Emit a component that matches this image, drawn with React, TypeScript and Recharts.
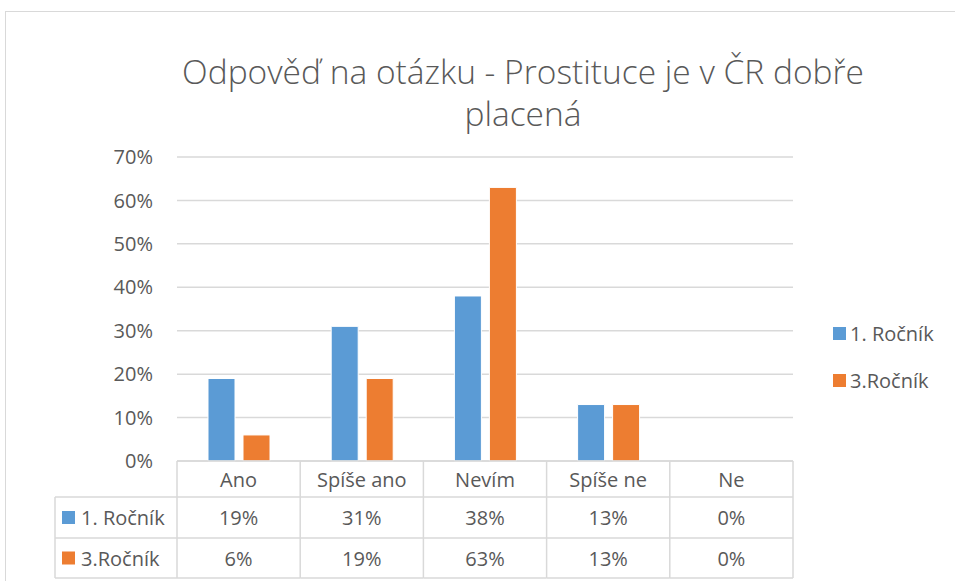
import React from "react";
import { BarChart, Bar, XAxis, YAxis, CartesianGrid } from "recharts";

const categories = ["Ano", "Spíše ano", "Nevím", "Spíše ne", "Ne"];
const firstYear = [0.19, 0.31, 0.38, 0.13, 0];
const thirdYear = [0.06, 0.19, 0.63, 0.13, 0];
const seriesNames = ["1. Ročník", "3.Ročník"];
const seriesColors = ["#5B9BD5", "#ED7D31"];
const yTicks = [0, 0.1, 0.2, 0.3, 0.4, 0.5, 0.6, 0.7];
const titleLines = ["Odpověď na otázku - Prostituce je v ČR dobře", "placená"];

const data = categories.map((name, i) => ({
  name,
  first: firstYear[i],
  third: thirdYear[i],
}));

const FONT = "'Open Sans', sans-serif";
const TEXT = "#595959";
const LINE = "#d9d9d9";
const FS = 20;

const W = 955;
const H = 581;
const PLOT_LEFT = 177;
const PLOT_RIGHT = 793;
const PLOT_TOP = 157;
const AXIS_Y = 461;
const ROW_LINES = [497, 538, 578];
const KEY_LEFT = 55;
const COL_W = (PLOT_RIGHT - PLOT_LEFT) / categories.length;

const pct = (v: number) => `${Math.round(v * 100)}%`;

const TableTick = (props: any) => {
  const { x, payload, index } = props;
  const half = COL_W / 2;
  const rows = [firstYear, thirdYear];
  return (
    <g fontFamily={FONT} fontSize={FS} fill={TEXT}>
      <line x1={x + half} x2={x + half} y1={AXIS_Y} y2={ROW_LINES[2]} stroke={LINE} strokeWidth={1.5} />
      {index === 0 && (
        <line x1={x - half} x2={x - half} y1={AXIS_Y} y2={ROW_LINES[2]} stroke={LINE} strokeWidth={1.5} />
      )}
      {ROW_LINES.map((ly) => (
        <line key={ly} x1={x - half} x2={x + half} y1={ly} y2={ly} stroke={LINE} strokeWidth={1.5} />
      ))}
      <text x={x} y={(AXIS_Y + ROW_LINES[0]) / 2} textAnchor="middle" dominantBaseline="central">
        {payload.value}
      </text>
      {rows.map((r, ri) => (
        <text
          key={ri}
          x={x}
          y={(ROW_LINES[ri] + ROW_LINES[ri + 1]) / 2}
          textAnchor="middle"
          dominantBaseline="central"
        >
          {pct(r[index])}
        </text>
      ))}
      {index === 0 && (
        <g>
          {ROW_LINES.map((ly) => (
            <line key={ly} x1={KEY_LEFT} x2={x - half} y1={ly} y2={ly} stroke={LINE} strokeWidth={1.5} />
          ))}
          <line x1={KEY_LEFT} x2={KEY_LEFT} y1={ROW_LINES[0]} y2={ROW_LINES[2]} stroke={LINE} strokeWidth={1.5} />
          {seriesNames.map((s, si) => {
            const cy = (ROW_LINES[si] + ROW_LINES[si + 1]) / 2;
            return (
              <g key={s}>
                <rect x={KEY_LEFT + 7} y={cy - 6.5} width={13} height={13} fill={seriesColors[si]} />
                <text x={KEY_LEFT + 26} y={cy} dominantBaseline="central">
                  {s}
                </text>
              </g>
            );
          })}
        </g>
      )}
    </g>
  );
};

const LegendBox = () => (
  <div
    style={{
      position: "absolute",
      left: 833,
      top: 321,
      fontFamily: FONT,
      fontSize: FS,
      color: TEXT,
    }}
  >
    {seriesNames.map((s, i) => (
      <div key={s} style={{ display: "flex", alignItems: "center", height: 24, marginBottom: 23, whiteSpace: "nowrap" }}>
        <span style={{ width: 13, height: 13, background: seriesColors[i], marginRight: 4 }} />
        {s}
      </div>
    ))}
  </div>
);

export default function App() {
  return (
    <div style={{ position: "absolute", left: 0, top: 0, width: W, height: H, background: "#fff", overflow: "hidden" }}>
      <div
        style={{
          position: "absolute",
          left: 5,
          top: 11,
          width: W,
          height: H,
          border: `1.5px solid ${LINE}`,
          boxSizing: "border-box",
        }}
      />
      <div
        style={{
          position: "absolute",
          left: 523 - 400,
          top: 50,
          width: 800,
          textAlign: "center",
          fontFamily: FONT,
          fontWeight: 300,
          fontSize: 33.5,
          lineHeight: "42px",
          color: TEXT,
        }}
      >
        {titleLines.map((t) => (
          <div key={t}>{t}</div>
        ))}
      </div>
      <BarChart
        width={W}
        height={H}
        data={data}
        margin={{ top: PLOT_TOP, right: W - PLOT_RIGHT, bottom: 0, left: 0 }}
        barSize={27}
        barGap={8}
        style={{ position: "absolute", left: 0, top: 0 }}
      >
        <CartesianGrid vertical={false} stroke={LINE} strokeWidth={1.5} />
        <XAxis
          dataKey="name"
          height={H - AXIS_Y}
          interval={0}
          tickLine={false}
          axisLine={{ stroke: LINE, strokeWidth: 1.5 }}
          tick={<TableTick />}
        />
        <YAxis
          width={PLOT_LEFT}
          domain={[0, 0.7]}
          ticks={yTicks}
          tickFormatter={pct}
          axisLine={false}
          tickLine={false}
          tickMargin={18}
          tick={{ fontFamily: FONT, fontSize: FS, fill: TEXT }}
        />
        <Bar dataKey="first" name={seriesNames[0]} fill={seriesColors[0]} stroke="#fff" strokeWidth={1} isAnimationActive={false} />
        <Bar dataKey="third" name={seriesNames[1]} fill={seriesColors[1]} stroke="#fff" strokeWidth={1} isAnimationActive={false} />
      </BarChart>
      <LegendBox />
    </div>
  );
}
